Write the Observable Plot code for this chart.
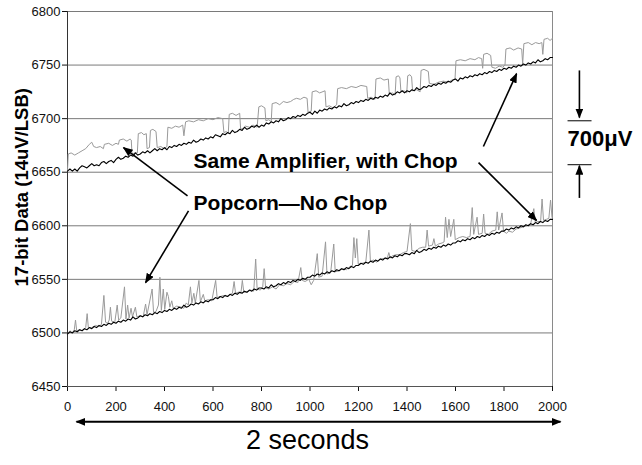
<!DOCTYPE html>
<html>
<head>
<meta charset="utf-8">
<script src="https://cdn.jsdelivr.net/npm/d3@7"></script>
<script src="https://cdn.jsdelivr.net/npm/@observablehq/plot@0.6"></script>
<style>
  html, body { margin: 0; padding: 0; background: #fff; }
</style>
</head>
<body>
<div id="chart"></div>
<script>
// ---- Data ----
const xTicks = [0, 200, 400, 600, 800, 1000, 1200, 1400, 1600, 1800, 2000];
const yTicks = [6450, 6500, 6550, 6600, 6650, 6700, 6750, 6800];

// chopped amplifier, sampled every 10 readings
const chopStep = 10;
const chopUpper = [
  6651, 6653, 6651, 6653, 6651, 6654, 6656, 6655, 6654, 6656, 6658, 6656, 6657, 6656, 6659, 6660, 6658, 6660, 6661, 6659,
  6662, 6664, 6662, 6663, 6665, 6664, 6666, 6665, 6668, 6666, 6667, 6669, 6668, 6670, 6668, 6670, 6672, 6670, 6672, 6671,
  6673, 6671, 6674, 6673, 6675, 6674, 6676, 6675, 6677, 6676, 6678, 6677, 6680, 6678, 6679, 6681, 6680, 6682, 6681, 6683,
  6682, 6685, 6684, 6683, 6686, 6685, 6687, 6686, 6689, 6687, 6688, 6690, 6689, 6692, 6690, 6691, 6693, 6692, 6694, 6692,
  6694, 6693, 6696, 6695, 6697, 6696, 6698, 6697, 6700, 6698, 6699, 6701, 6700, 6702, 6701, 6703, 6702, 6704, 6703, 6705,
  6706, 6704, 6707, 6705, 6708, 6707, 6709, 6708, 6710, 6709, 6711, 6710, 6712, 6711, 6714, 6712, 6713, 6715, 6714, 6716,
  6715, 6717, 6716, 6718, 6717, 6719, 6718, 6720, 6719, 6721, 6720, 6722, 6721, 6724, 6722, 6723, 6725, 6724, 6726, 6724,
  6726, 6725, 6727, 6726, 6729, 6727, 6728, 6730, 6729, 6731, 6730, 6732, 6731, 6733, 6732, 6734, 6733, 6735, 6734, 6736,
  6737, 6735, 6738, 6737, 6739, 6738, 6740, 6739, 6741, 6740, 6742, 6741, 6743, 6742, 6744, 6743, 6745, 6744, 6746, 6745,
  6747, 6746, 6748, 6747, 6749, 6748, 6750, 6749, 6751, 6750, 6752, 6751, 6753, 6752, 6755, 6753, 6754, 6756, 6755, 6757,
  6757
];
const chopLower = [
  6499, 6501, 6500, 6502, 6501, 6503, 6502, 6504, 6503, 6505, 6504, 6506, 6505, 6507, 6506, 6508, 6507, 6509, 6508, 6510,
  6509, 6511, 6510, 6512, 6511, 6513, 6512, 6515, 6513, 6514, 6516, 6515, 6517, 6516, 6518, 6517, 6519, 6518, 6520, 6519,
  6521, 6520, 6522, 6521, 6523, 6522, 6524, 6523, 6526, 6524, 6525, 6527, 6526, 6528, 6527, 6529, 6528, 6530, 6529, 6531,
  6531, 6533, 6532, 6534, 6533, 6535, 6534, 6536, 6535, 6537, 6536, 6538, 6537, 6539, 6538, 6540, 6539, 6541, 6540, 6542,
  6542, 6541, 6543, 6542, 6545, 6543, 6544, 6546, 6545, 6547, 6546, 6548, 6547, 6549, 6548, 6550, 6549, 6551, 6550, 6552,
  6552, 6554, 6553, 6555, 6554, 6556, 6555, 6557, 6556, 6558, 6557, 6559, 6558, 6560, 6559, 6561, 6560, 6562, 6561, 6563,
  6563, 6565, 6564, 6566, 6565, 6567, 6566, 6568, 6567, 6569, 6568, 6570, 6569, 6571, 6570, 6572, 6571, 6573, 6572, 6574,
  6574, 6573, 6575, 6574, 6577, 6575, 6576, 6578, 6577, 6579, 6578, 6580, 6579, 6581, 6580, 6582, 6581, 6583, 6582, 6584,
  6584, 6586, 6585, 6587, 6586, 6588, 6587, 6589, 6588, 6590, 6589, 6591, 6590, 6592, 6591, 6593, 6592, 6594, 6593, 6595,
  6595, 6597, 6596, 6598, 6597, 6599, 6598, 6600, 6599, 6601, 6600, 6602, 6601, 6603, 6602, 6604, 6603, 6605, 6604, 6606,
  6606
];

// popcorn noise, no chop (upper trace)
const popUpperX = [
  0, 3, 15, 30, 45, 60, 75, 90, 100, 108, 120, 135, 148, 152, 170, 185, 200, 210, 214, 230,
  245, 258, 263, 266, 278, 288, 292, 305, 315, 325, 328, 338, 342, 352, 365, 370, 385, 398, 410, 414,
  430, 445, 460, 475, 480, 487, 500, 520, 540, 560, 580, 600, 620, 640, 645, 655, 663, 667, 680, 695,
  710, 714, 725, 734, 750, 765, 782, 789, 800, 814, 818, 830, 840, 844, 860, 875, 890, 905, 920, 933,
  945, 960, 975, 988, 992, 1005, 1009, 1025, 1040, 1062, 1066, 1080, 1095, 1110, 1114, 1130, 1150, 1170, 1190, 1210,
  1234, 1238, 1252, 1268, 1272, 1290, 1305, 1323, 1327, 1340, 1351, 1355, 1365, 1371, 1375, 1388, 1399, 1403, 1412, 1419,
  1423, 1440, 1454, 1458, 1470, 1488, 1492, 1510, 1530, 1550, 1570, 1585, 1598, 1602, 1620, 1640, 1660, 1680, 1695, 1708,
  1712, 1716, 1730, 1745, 1750, 1765, 1780, 1795, 1804, 1808, 1825, 1840, 1858, 1873, 1877, 1882, 1900, 1915, 1930, 1945,
  1956, 1960, 1965, 1980, 1990, 2000
];
const popUpperY = [
  6651, 6667, 6668, 6666, 6668, 6670, 6672, 6676, 6678, 6674, 6673, 6674, 6672, 6676, 6677, 6675, 6677, 6676, 6680, 6681,
  6679, 6681, 6680, 6667, 6668, 6668, 6686, 6687, 6685, 6686, 6672, 6673, 6689, 6690, 6688, 6673, 6674, 6672, 6674, 6692,
  6691, 6693, 6692, 6694, 6684, 6697, 6698, 6697, 6699, 6698, 6700, 6699, 6701, 6700, 6687, 6688, 6686, 6704, 6705, 6703,
  6705, 6690, 6691, 6693, 6692, 6694, 6692, 6711, 6712, 6710, 6698, 6699, 6697, 6714, 6715, 6713, 6716, 6715, 6716, 6718,
  6719, 6718, 6720, 6719, 6706, 6707, 6725, 6726, 6724, 6726, 6711, 6712, 6710, 6713, 6728, 6729, 6728, 6730, 6729, 6731,
  6730, 6719, 6720, 6718, 6737, 6738, 6736, 6737, 6723, 6724, 6722, 6739, 6740, 6738, 6725, 6726, 6724, 6740, 6741, 6739,
  6726, 6727, 6725, 6745, 6746, 6744, 6733, 6732, 6734, 6735, 6734, 6736, 6737, 6754, 6755, 6754, 6756, 6755, 6757, 6756,
  6747, 6760, 6761, 6759, 6748, 6747, 6749, 6748, 6750, 6765, 6766, 6764, 6766, 6765, 6751, 6770, 6771, 6769, 6771, 6770,
  6771, 6760, 6774, 6775, 6773, 6775
];

// popcorn noise, no chop (lower trace)
const popLowerX = [
  0, 10, 20, 28, 33, 38, 50, 62, 75, 81, 86, 100, 115, 130, 140, 150, 157, 165, 172, 177,
  182, 195, 205, 211, 220, 235, 241, 248, 254, 262, 268, 280, 286, 300, 312, 322, 328, 349, 355, 365,
  375, 381, 387, 395, 401, 410, 416, 422, 430, 436, 450, 470, 480, 490, 498, 507, 513, 521, 527, 542,
  548, 560, 566, 580, 595, 611, 617, 630, 645, 660, 672, 680, 687, 693, 705, 715, 721, 727, 740, 755,
  768, 776, 782, 795, 805, 811, 817, 830, 845, 860, 875, 890, 905, 920, 935, 950, 962, 968, 980, 995,
  1005, 1015, 1030, 1036, 1050, 1064, 1070, 1085, 1098, 1104, 1120, 1135, 1150, 1165, 1175, 1181, 1187, 1193, 1199, 1215,
  1230, 1243, 1249, 1262, 1275, 1290, 1319, 1325, 1331, 1340, 1355, 1370, 1385, 1400, 1414, 1420, 1435, 1450, 1465, 1477,
  1483, 1489, 1505, 1511, 1517, 1530, 1545, 1553, 1559, 1566, 1573, 1580, 1593, 1599, 1615, 1630, 1645, 1660, 1669, 1675,
  1689, 1695, 1710, 1716, 1722, 1735, 1750, 1766, 1772, 1778, 1792, 1798, 1810, 1820, 1835, 1850, 1865, 1880, 1895, 1910,
  1923, 1929, 1940, 1951, 1957, 1963, 1975, 1985, 1992, 1998, 2000
];
const popLowerY = [
  6499, 6502, 6500, 6503, 6512, 6502, 6503, 6502, 6505, 6518, 6505, 6505, 6507, 6506, 6508, 6535, 6510, 6509, 6512, 6524,
  6511, 6510, 6526, 6512, 6514, 6543, 6513, 6526, 6514, 6523, 6515, 6524, 6515, 6516, 6515, 6527, 6517, 6541, 6519, 6520,
  6526, 6552, 6521, 6541, 6522, 6538, 6534, 6524, 6530, 6523, 6525, 6524, 6523, 6528, 6526, 6543, 6528, 6537, 6528, 6549,
  6529, 6536, 6530, 6531, 6530, 6549, 6533, 6534, 6535, 6534, 6536, 6537, 6548, 6537, 6538, 6537, 6549, 6538, 6538, 6540,
  6539, 6569, 6541, 6540, 6543, 6560, 6542, 6541, 6543, 6541, 6545, 6544, 6546, 6545, 6548, 6547, 6561, 6549, 6548, 6550,
  6545, 6549, 6574, 6552, 6553, 6585, 6555, 6556, 6583, 6557, 6558, 6560, 6559, 6562, 6563, 6589, 6570, 6588, 6564, 6565,
  6566, 6596, 6567, 6568, 6566, 6569, 6570, 6575, 6570, 6572, 6573, 6573, 6575, 6576, 6602, 6577, 6576, 6579, 6580, 6580,
  6596, 6581, 6582, 6588, 6581, 6583, 6584, 6585, 6608, 6589, 6606, 6590, 6606, 6587, 6589, 6590, 6589, 6590, 6617, 6592,
  6608, 6592, 6593, 6611, 6593, 6592, 6595, 6596, 6613, 6596, 6612, 6595, 6593, 6595, 6594, 6597, 6598, 6599, 6600, 6602,
  6616, 6603, 6604, 6604, 6625, 6605, 6606, 6607, 6624, 6608, 6607
];

// annotation text and arrow endpoints, in data units
const boldLabels = [
  {text: "Same Amplifier, with Chop", x: 520, y: 6660.5},
  {text: "Popcorn\u2014No Chop", x: 520, y: 6621}
];
const scaleLabel = [{text: "700\u03bcV", x: 2062, y: 6681}];
const timeLabel = [{text: "2 seconds", x: 990, y: 6400}];
const yTitle = [{text: "17-bit Data (14uV/LSB)", x: -186, y: 6636}];
const arrows = [
  {x1: 495, y1: 6628, x2: 231, y2: 6673},
  {x1: 499, y1: 6614, x2: 322, y2: 6547},
  {x1: 1715, y1: 6674, x2: 1852, y2: 6742},
  {x1: 1695, y1: 6659, x2: 1934, y2: 6605},
  {x1: 2111, y1: 6745, x2: 2111, y2: 6701},
  {x1: 2111, y1: 6626, x2: 2111, y2: 6656}
];
const spanArrow = [{x1: 37, y1: 6417, x2: 2033, y2: 6417}];
const scaleBars = [
  {x1: 2062, x2: 2161, y: 6698},
  {x1: 2062, x2: 2161, y: 6657}
];

// ---- tables built from the arrays ----
const chopUpperData = chopUpper.map((v, i) => ({x: i * chopStep, y: v}));
const chopLowerData = chopLower.map((v, i) => ({x: i * chopStep, y: v}));
const popUpperData = popUpperX.map((x, i) => ({x, y: popUpperY[i]}));
const popLowerData = popLowerX.map((x, i) => ({x, y: popLowerY[i]}));

const font = '"Liberation Sans", Arial, Helvetica, sans-serif';

const chart = Plot.plot({
  width: 642,
  height: 465,
  marginLeft: 67,
  marginRight: 90,
  marginTop: 11,
  marginBottom: 79,
  style: {fontFamily: font, fontSize: "13px", color: "#111", background: "#fff", overflow: "visible"},
  x: {domain: [0, 2000], ticks: xTicks, tickFormat: d => String(d), tickSize: 5, tickPadding: 10, label: null},
  y: {domain: [6450, 6800], ticks: yTicks, tickFormat: d => String(d), tickSize: 5, tickPadding: 2, label: null},
  marks: [
    Plot.ruleY(yTicks, {stroke: "#7a7a7a", strokeWidth: 1, strokeOpacity: 1}),
    Plot.ruleX([2000], {stroke: "#8a8a8a", strokeWidth: 1}),
    Plot.ruleX([0], {stroke: "#333", strokeWidth: 1}),
    Plot.ruleY([6450], {stroke: "#555", strokeWidth: 1}),
    Plot.line(popUpperData, {x: "x", y: "y", stroke: "#9a9a9a", strokeWidth: 1}),
    Plot.line(popLowerData, {x: "x", y: "y", stroke: "#9a9a9a", strokeWidth: 1}),
    Plot.line(chopUpperData, {x: "x", y: "y", stroke: "#000", strokeWidth: 1.1}),
    Plot.line(chopLowerData, {x: "x", y: "y", stroke: "#000", strokeWidth: 1.1}),
    Plot.link(arrows, {x1: "x1", y1: "y1", x2: "x2", y2: "y2", stroke: "#000", strokeWidth: 1.6}),
    Plot.link(spanArrow, {x1: "x1", y1: "y1", x2: "x2", y2: "y2", stroke: "#000", strokeWidth: 2}),
    Plot.link(scaleBars, {x1: "x1", x2: "x2", y1: "y", y2: "y", stroke: "#000", strokeWidth: 1}),
    Plot.text(boldLabels, {x: "x", y: "y", text: "text", fontSize: 21, fontWeight: "bold", textAnchor: "start", fill: "#000", fontFamily: font}),
    Plot.text(scaleLabel, {x: "x", y: "y", text: "text", fontSize: 22, fontWeight: "bold", textAnchor: "start", fill: "#000", fontFamily: font}),
    Plot.text(timeLabel, {x: "x", y: "y", text: "text", fontSize: 27, textAnchor: "middle", fill: "#000", fontFamily: font}),
    Plot.text(yTitle, {x: "x", y: "y", text: "text", fontSize: 18.5, fontWeight: "bold", rotate: -90, textAnchor: "middle", fill: "#000", fontFamily: font})
  ]
});

// Filled arrowheads (Excel style)
const svg = chart.tagName.toLowerCase() === "svg" ? chart : chart.querySelector("svg");
const ns = "http://www.w3.org/2000/svg";
const defs = document.createElementNS(ns, "defs");
defs.innerHTML = '<marker id="ah" viewBox="0 0 10 8" refX="9" refY="4" markerWidth="10" markerHeight="8" markerUnits="userSpaceOnUse" orient="auto-start-reverse"><path d="M0,0L10,4L0,8z" fill="#000"/></marker>';
svg.insertBefore(defs, svg.firstChild);
const linkGroups = svg.querySelectorAll('g[aria-label="link"]');
if (linkGroups[0]) linkGroups[0].querySelectorAll("path, line").forEach(p => p.setAttribute("marker-end", "url(#ah)"));
if (linkGroups[1]) linkGroups[1].querySelectorAll("path, line").forEach(p => {
  p.setAttribute("marker-end", "url(#ah)");
  p.setAttribute("marker-start", "url(#ah)");
});

document.getElementById("chart").appendChild(chart);
</script>
</body>
</html>
